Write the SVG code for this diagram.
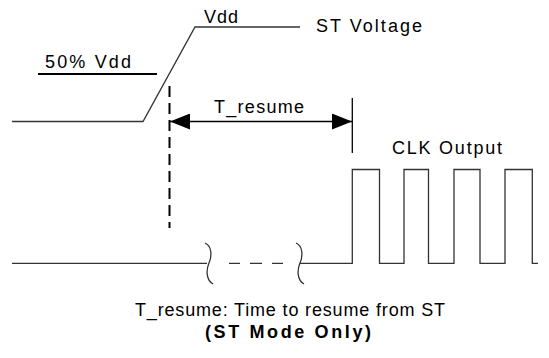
<svg xmlns="http://www.w3.org/2000/svg" width="549" height="358" viewBox="0 0 549 358">
<style>
.t{font-family:"Liberation Sans",Arial,sans-serif;font-size:18px;fill:#000}
.b{font-weight:bold}
.w{fill:none;stroke:#333;stroke-width:1.3}
.d{fill:none;stroke:#000;stroke-width:2;stroke-dasharray:11,6}
</style>
<defs>
<marker id="ah" markerWidth="20" markerHeight="16" refX="20" refY="8" orient="auto-start-reverse" markerUnits="userSpaceOnUse">
<path d="M0,0 L20,8 L0,16 Z" fill="#000"/>
</marker>
</defs>
<rect width="549" height="358" fill="#fff"/>
<g id="st-voltage">
<path class="w" d="M12,121.5 H143 L195,27 H300"/>
<line x1="38" y1="74" x2="157" y2="74" stroke="#000" stroke-width="2"/>
<text class="t" x="45" y="68" textLength="86" lengthAdjust="spacing">50% Vdd</text>
<text class="t" x="204" y="23" textLength="34" lengthAdjust="spacing">Vdd</text>
<text class="t" x="316" y="32" textLength="106" lengthAdjust="spacing">ST Voltage</text>
</g>
<g id="clk-output">
<path class="w" d="M12,263.3 H207"/>
<path class="w" d="M300,263.3 H352.3 V169.5 H379.5 V263.3 H404 V169.5 H428.5 V263.3 H454 V169.5 H480 V263.3 H505 V169.5 H532.3 V263.3 H538"/>
<path class="w" d="M229,263.3 H240 M250,263.3 H262 M272,263.3 H283"/>
<path class="w" d="M205,243 C212,246 212,256 209,263 C206,270 206,280 213,284"/>
<path class="w" d="M296,243 C303,246 303,256 300,263 C297,270 297,280 304,284"/>
<text class="t" x="392" y="154" textLength="110" lengthAdjust="spacing">CLK Output</text>
</g>
<g id="connectors">
<line class="d" x1="169.5" y1="86" x2="169.5" y2="228"/>
<line x1="352.3" y1="98" x2="352.3" y2="153" stroke="#000" stroke-width="1.3"/>
<line x1="170" y1="121.5" x2="352" y2="121.5" stroke="#000" stroke-width="1.3" marker-start="url(#ah)" marker-end="url(#ah)"/>
<text class="t" x="214" y="113" textLength="90" lengthAdjust="spacing">T_resume</text>
</g>
<g id="caption">
<text class="t" x="135" y="316" textLength="310" lengthAdjust="spacing">T_resume: Time to resume from ST</text>
<text class="t b" x="205" y="338" textLength="166" lengthAdjust="spacing">(ST Mode Only)</text>
</g>
</svg>
